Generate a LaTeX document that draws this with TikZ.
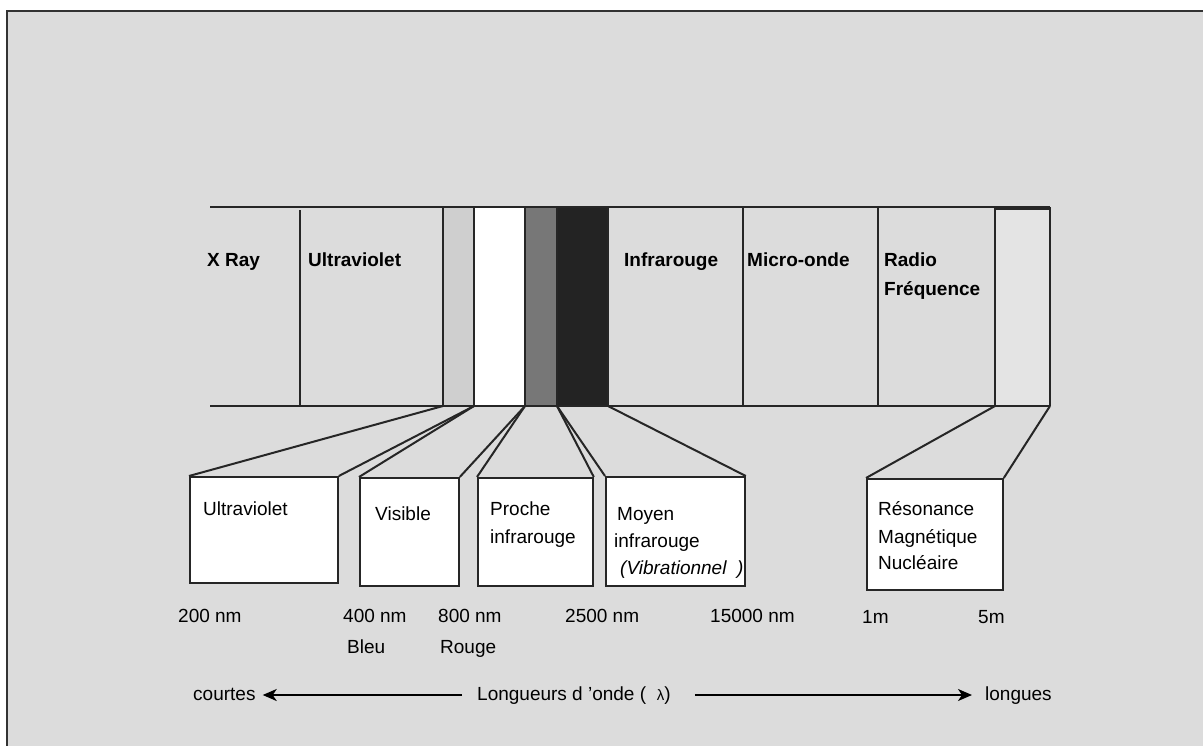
\documentclass[tikz,border=0pt]{standalone}
\usepackage{fontspec}
\setmainfont{Liberation Sans}
\usetikzlibrary{arrows.meta}

\definecolor{fond}{RGB}{220,220,220}
\definecolor{uvgris}{RGB}{207,207,207}
\definecolor{nirgris}{RGB}{119,119,119}
\definecolor{mirnoir}{RGB}{35,35,35}
\definecolor{rmngris}{RGB}{228,228,228}

\tikzset{
  lbl/.style={anchor=base west, inner sep=0pt, font=\fontsize{19}{23}\selectfont},
  toplbl/.style={lbl, font=\fontsize{19}{23}\selectfont\bfseries},
  zoombox/.style={draw=black!85, line width=1.8pt, fill=white, inner sep=0pt, anchor=north west},
  bande/.style={draw=black!85, line width=2pt},
  fleche/.style={line width=2pt, -{Stealth[length=14pt,width=12pt,inset=4pt]}}
}

\begin{document}
\begin{tikzpicture}[x=1pt,y=-1pt]
\useasboundingbox (0,0) rectangle (1203,745);
\fill[white] (0,0) rectangle (1203,745);
\draw[line width=2pt, draw=black!80, fill=fond] (7,11) rectangle (1220,760);

% bornes du spectre (bas de la bande)
\coordinate (uv) at (443,406);
\coordinate (bl) at (474,406);
\coordinate (rg) at (525,406);
\coordinate (pi) at (557,406);
\coordinate (mi) at (608,406);
\coordinate (rf) at (995,406);
\coordinate (rm) at (1050,406);

\fill[uvgris] (443,207) rectangle (bl);
\fill[white] (474,207) rectangle (rg);
\fill[nirgris] (525,207) rectangle (pi);
\fill[mirnoir] (557,207) rectangle (mi);
\fill[rmngris] (995,207) rectangle (rm);

\draw[bande] (210,207)--(1050,207);
\draw[bande] (210,406)--(rm);
\draw[bande] (300,210)--(300,406);
\foreach \xb in {443,474,525,557,608,743,878,995,1050}
\draw[bande] (\xb,207)--(\xb,406);
\draw[line width=3pt, draw=black!85] (995,208)--(1050,208);

\node[toplbl] (xray) at (207,266) {X Ray};
\node[toplbl] (uvtop) at (308,266) {Ultraviolet};
\node[toplbl] (irtop) at (624,266) {Infrarouge};
\node[toplbl] (mo) at (747,266) {Micro-onde};
\node[toplbl] (radio) at (884,266) {Radio};
\node[toplbl] (freq) at (884,295) {Fréquence};

% cadres agrandis
\node[zoombox, minimum width=148pt, minimum height=106pt] (uvbox) at (189,476) {};
\node[zoombox, minimum width=99pt, minimum height=108pt] (visbox) at (359,477) {};
\node[zoombox, minimum width=115pt, minimum height=108pt] (pirbox) at (477,477) {};
\node[zoombox, minimum width=139pt, minimum height=109pt] (mirbox) at (605,476) {};
\node[zoombox, minimum width=136pt, minimum height=111pt] (rmnbox) at (866,478) {};

\draw[bande] (uv)--(uvbox.north west);
\draw[bande] (bl)--(uvbox.north east);
\draw[bande] (bl)--(visbox.north west);
\draw[bande] (rg)--(visbox.north east);
\draw[bande] (rg)--(pirbox.north west);
\draw[bande] (pi)--(pirbox.north east);
\draw[bande] (pi)--(mirbox.north west);
\draw[bande] (mi)--(mirbox.north east);
\draw[bande] (rf)--(rmnbox.north west);
\draw[bande] (rm)--(rmnbox.north east);

\node[lbl] (uvtxt) at (203,515) {Ultraviolet};
\node[lbl] (vistxt) at (375,520) {Visible};
\node[lbl] (pirtxt) at (490,515) {Proche};
\node[lbl] (pirtxt2) at (490,543) {infrarouge};
\node[lbl] (mirtxt) at (617,520) {Moyen};
\node[lbl] (mirtxt2) at (614,547) {infrarouge};
\node[lbl, font=\fontsize{19}{23}\selectfont\itshape] (mirtxt3) at (620,574) {(Vibrationnel \ )};
\node[lbl] (rmntxt) at (878,515) {Résonance};
\node[lbl] (rmntxt2) at (878,543) {Magnétique};
\node[lbl] (rmntxt3) at (878,569) {Nucléaire};

% longueurs d'onde
\node[lbl] (l200) at (178,622) {200 nm};
\node[lbl] (l400) at (343,622) {400 nm};
\node[lbl] (l800) at (438,622) {800 nm};
\node[lbl] (l2500) at (565,622) {2500 nm};
\node[lbl] (l15000) at (710,622) {15000 nm};
\node[lbl] (l1m) at (862,623) {1m};
\node[lbl] (l5m) at (978,623) {5m};
\node[lbl] (bleu) at (347,653) {Bleu};
\node[lbl] (rouge) at (440,653) {Rouge};

\node[lbl] (courtes) at (193,700) {courtes};
\node[lbl] (onde) at (477,700) {Longueurs d 'onde (\ \ {\fontsize{15}{18}\selectfont λ})};
\node[lbl] (longues) at (985,700) {longues};

\draw[fleche] ([shift={(-15pt,5pt)}]onde.base west)--([shift={(7pt,5pt)}]courtes.base east);
\draw[fleche] ([shift={(24pt,5pt)}]onde.base east)--([shift={(-13pt,5pt)}]longues.base west);
\end{tikzpicture}
\end{document}
